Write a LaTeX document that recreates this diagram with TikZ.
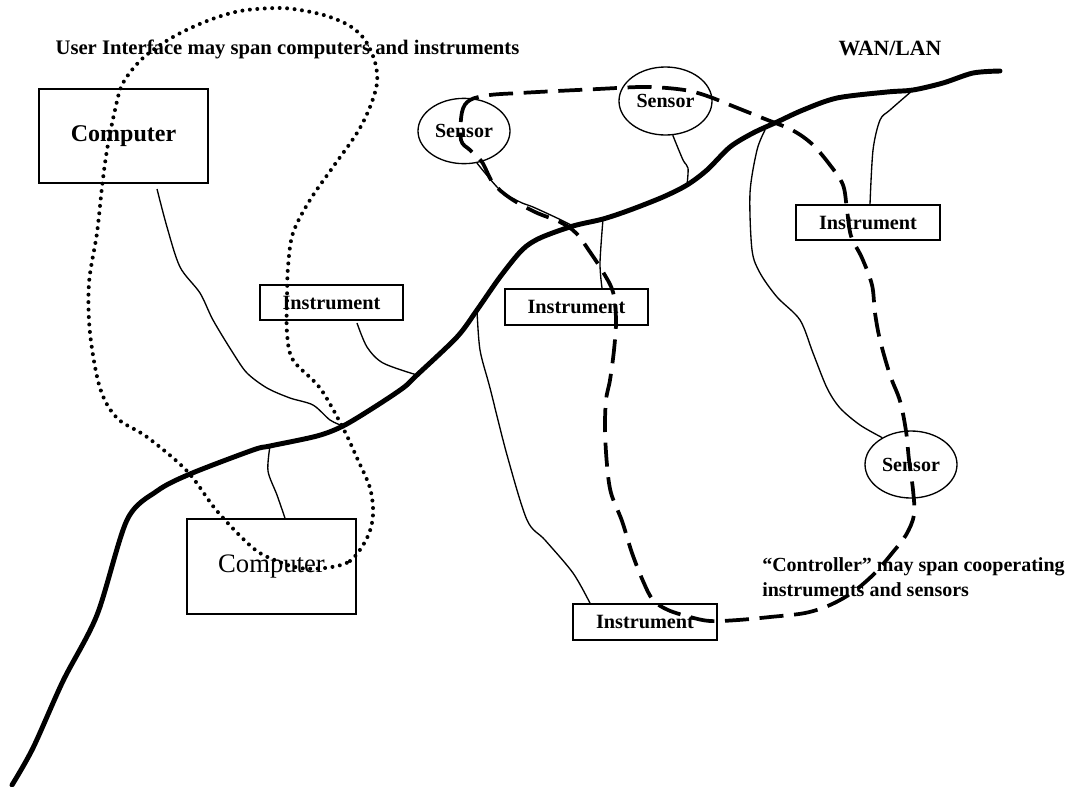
\documentclass[tikz,border=0pt]{standalone}
\usepackage{fontspec}
\setmainfont{Liberation Serif}
\usetikzlibrary{shapes.geometric}
\begin{document}
\begin{tikzpicture}[x=0.75pt,y=-0.75pt,
  box/.style={draw,line width=1.3pt,inner sep=0pt,font=\bfseries\fontsize{15.2}{18}\selectfont},
  sens/.style={draw,ellipse,line width=1pt,inner sep=0pt,minimum width=69pt,minimum height=49pt,font=\bfseries\fontsize{15}{18}\selectfont},
  wire/.style={line width=1pt,line join=round},
  lan/.style={line width=3.7pt,line cap=round,line join=round},
  uiloop/.style={line width=3pt,line cap=round,dash pattern=on 0pt off 5.6pt},
  ctlloop/.style={line width=2.8pt,dash pattern=on 18pt off 8pt},
  label/.style={inner sep=0pt,font=\bfseries\fontsize{15.5}{18.75}\selectfont}]
\useasboundingbox (0,0) rectangle (1080,786);

% computers, instruments and sensors
\node[box,minimum width=126.75pt,minimum height=70.5pt,font=\bfseries\fontsize{18}{20}\selectfont] (comp1) at (123.5,136) {Computer};
\node[box,minimum width=126.75pt,minimum height=71.25pt,font=\fontsize{20}{22}\selectfont] (comp2) at (271.5,566.5) {Computer};
\node[box,minimum width=107.25pt,minimum height=26.25pt] (ins1) at (331.5,302.5) {Instrument};
\node[box,minimum width=107.25pt,minimum height=27pt] (ins2) at (576.5,307) {Instrument};
\node[box,minimum width=108pt,minimum height=26.25pt] (ins3) at (868,222.5) {Instrument};
\node[box,minimum width=108pt,minimum height=27pt] (ins4) at (645,622) {Instrument};
\node[sens] (sen1) at (464,131) {Sensor};
\node[sens,minimum height=51pt,minimum width=69.75pt] (sen2) at (665.5,101) {Sensor};
\node[sens,minimum height=50.25pt] (sen3) at (911,464.5) {Sensor};

% labels
\node[label] (uitext) at (287.5,49) {User Interface may span computers and instruments};
\node[label,font=\bfseries\fontsize{16.3}{18}\selectfont] (wantext) at (890,48) {WAN/LAN};
\node[label,anchor=west,align=left,font=\bfseries\fontsize{15}{18.75}\selectfont] (ctltext) at (762,577) {“Controller” may span cooperating\\instruments and sensors};

% taps on the network backbone
\coordinate (tC1) at (343,426);
\coordinate (tI1) at (417,375);
\coordinate (tC2) at (270,446);
\coordinate (tS1) at (573,226);
\coordinate (tI2) at (603,219);
\coordinate (tS2) at (687,185);
\coordinate (tI4) at (477,310);
\coordinate (tS3) at (765,130);
\coordinate (tI3) at (913,90);
\coordinate (lanA) at (12,785);
\coordinate (lanB) at (1000,71);

% network backbone
\draw[lan] plot[smooth,tension=0.5] coordinates {(lanA) (33,748) (63,681) (97,615) (127,520) (157,491) (190,474) (253,450) (tC2) (317,436) (tC1) (373,408) (403,388) (tI1) (457,337) (tI4) (500,277) (522,250) (540,238) (tS1) (tI2) (630,210) (663,197) (tS2) (707,170) (730,147) (753,133) (777,122) (803,110) (837,98) (887,92) (tI3) (943,83) (973,73) (lanB)};

% drops from the backbone
\coordinate (c1a) at (157,189);
\draw[wire] plot[smooth,tension=0.5] coordinates {(c1a) (167,227) (180,267) (200,293) (213,320) (233,353) (247,373) (267,388) (290,398) (313,405) (330,420) (tC1)};
\coordinate (i1a) at (357,323);
\draw[wire] plot[smooth,tension=0.5] coordinates {(i1a) (367,347) (383,363) (tI1)};
\draw[wire] plot[smooth,tension=0.5] coordinates {(tC2) (268,471) (277,495) (comp2.north -| 285,0)};
\draw[wire] plot[smooth,tension=0.5] coordinates {(sen1.-68) (500,190) (520,202) (533,207) (557,218) (tS1)};
\draw[wire] plot[smooth,tension=0.5] coordinates {(sen2.-78) (683,160) (688,168) (tS2)};
\draw[wire] plot[smooth,tension=0.5] coordinates {(tI2) (600,263) (ins2.north -| 602,0)};
\draw[wire] plot[smooth,tension=0.5] coordinates {(tI4) (480,350) (490,388) (507,455) (527,520) (545,540) (573,573) (ins4.north -| 590,0)};
\draw[wire] plot[smooth,tension=0.5] coordinates {(tS3) (757,150) (750,193) (752,250) (760,273) (777,297) (800,320) (813,353) (827,388) (840,408) (860,425) (sen3.137)};
\draw[wire] plot[smooth,tension=0.5] coordinates {(tI3) (890,110) (880,120) (873,150) (ins3.north -| 870,0)};

% user interface grouping
\draw[uiloop] plot[smooth cycle,tension=0.55] coordinates {(325,568) (350,561) (367,538) (373,515) (370,488) (357,458) (343,428) (320,388) (293,360) (287,333) (287,300) (288,267) (293,233) (310,200) (333,167) (357,133) (370,107) (377,83) (375,62) (365,40) (350,26) (327,16) (300,10) (277,8) (240,11) (207,21) (173,37) (143,58) (123,83) (115,110) (107,150) (102,187) (97,233) (89,283) (90,333) (100,388) (117,418) (147,437) (187,471) (217,511) (253,548) (277,561) (300,568)};

% controller grouping
\draw[ctlloop] plot[smooth cycle,tension=0.55] coordinates {(461,140) (462,112) (470,100) (490,95) (520,93) (557,91) (598,89) (640,87) (667,88) (690,91) (710,97) (735,107) (765,119) (792,130) (812,144) (830,165) (843,185) (847,210) (851,236) (862,258) (872,285) (875,313) (880,340) (890,375) (900,401) (906,431) (909,460) (913,490) (914,515) (906,535) (893,552) (875,573) (853,592) (830,605) (805,613) (770,617) (738,620) (710,621) (690,617) (668,610) (653,600) (643,581) (632,553) (622,521) (611,493) (607,465) (605,430) (606,400) (610,380) (614,350) (616,320) (613,292) (603,272) (590,252) (576,233) (560,222) (535,212) (510,198) (493,183) (482,162) (470,150)};
\end{tikzpicture}
\end{document}
